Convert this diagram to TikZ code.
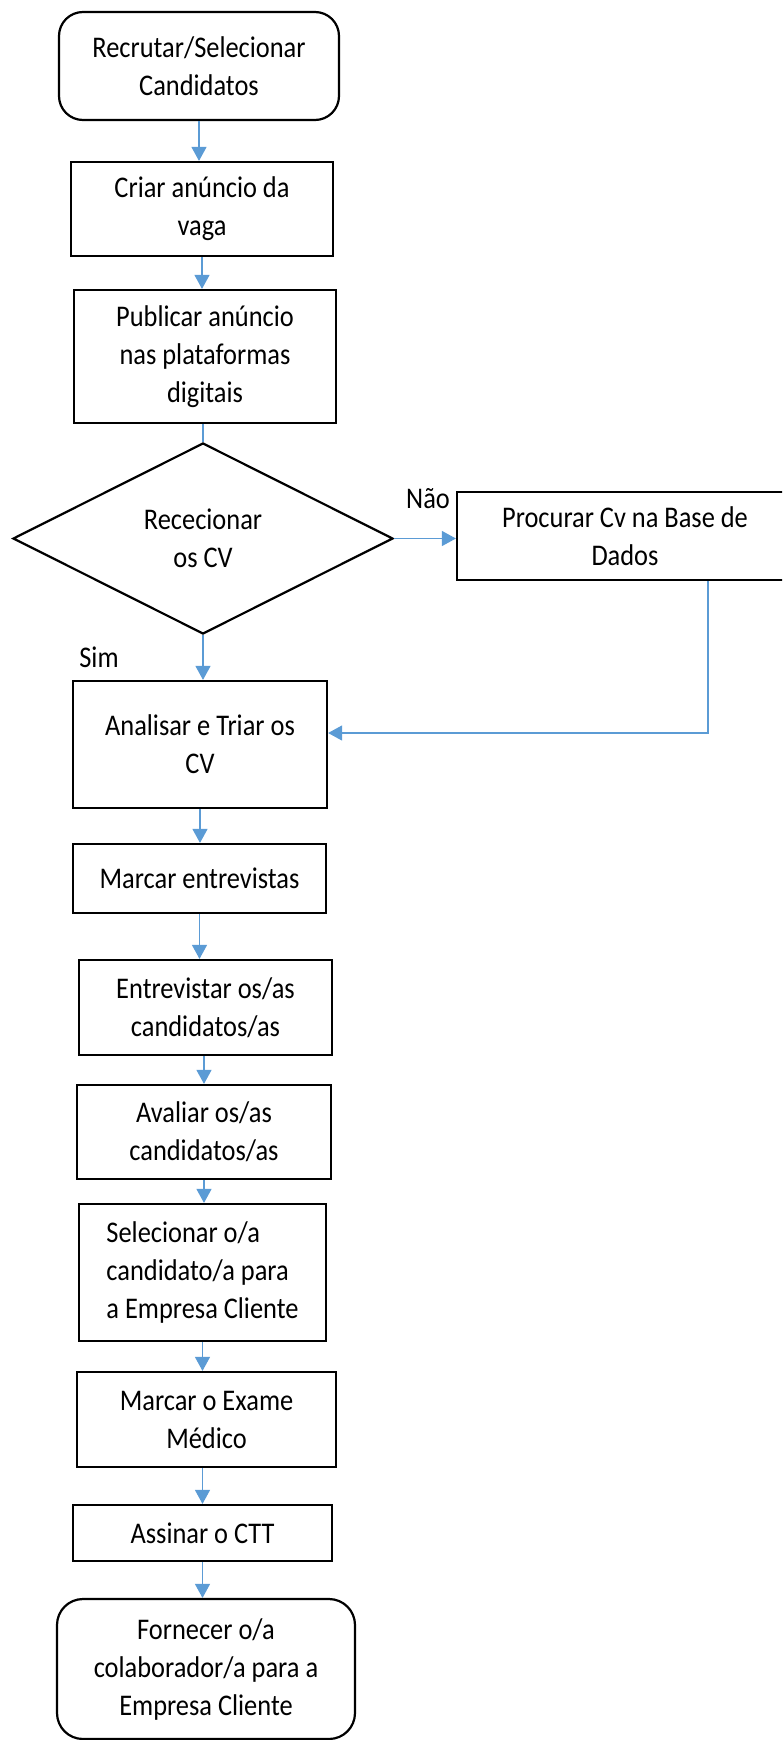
\documentclass[tikz,border=0pt]{standalone}
\usepackage{fontspec}
\setmainfont{Carlito}[FakeStretch=0.88]
\definecolor{flowblue}{RGB}{91,155,213}
\usetikzlibrary{
  shapes.geometric,
  arrows.meta,
  positioning
}

\begin{document}
\begin{tikzpicture}[
  x=0.5pt, y=-0.5pt,
  stepbox/.style 2 args={rectangle, draw=black, line width=1.1pt, minimum width=#1, minimum height=#2, inner sep=2pt, font=\fontsize{15}{19}\selectfont, align=center},
  termbox/.style 2 args={stepbox={#1}{#2}, rounded corners=12pt},
  decision/.style 2 args={diamond, draw=black, line width=1.1pt, minimum width=#1, minimum height=#2, inner sep=0pt, font=\fontsize{15}{19}\selectfont, align=center},
  arr/.style={-{Triangle[width=7.5pt, length=7pt]}, line width=0.6pt, flowblue},
  link/.style={line width=0.6pt, flowblue},
  tag/.style={font=\fontsize{15}{19}\selectfont, inner sep=0pt}
]
  \useasboundingbox (0,0) rectangle (782,1740);
  \clip (0,0) rectangle (782,1740);

  \node[termbox={140pt}{54pt}] (recrutar) at (199,66) {Recrutar/Selecionar\\Candidatos};
  \node[stepbox={131pt}{47pt}] (criar) at (202,209) {Criar anúncio da\\vaga};
  \node[stepbox={131pt}{66.5pt}] (publicar) at (205,356.5) {Publicar anúncio\\nas plataformas\\digitais};

  \node[decision={190pt}{95.5pt}] (rececionar) at (203,538.5) {Rececionar\\os CV};
  \node[stepbox={168pt}{44pt}] (procurar) at (625,536) {Procurar Cv na Base de\\Dados};
  \node[tag] (nao) at (428,499) {Não};
  \node[tag] (sim) at (99,657) {Sim};

  \node[stepbox={127pt}{63.5pt}] (analisar) at (200,744.5) {Analisar e Triar os\\CV};
  \node[stepbox={126.5pt}{34.5pt}] (marcar) at (199.5,878.5) {Marcar entrevistas};
  \node[stepbox={126.5pt}{47.5pt}] (entrevistar) at (205.5,1007.5) {Entrevistar os/as\\candidatos/as};
  \node[stepbox={127pt}{47pt}] (avaliar) at (204,1132) {Avaliar os/as\\candidatos/as};
  \node[stepbox={123.5pt}{68.5pt}, align=left] (selecionar) at (202.5,1272.5) {Selecionar o/a\\candidato/a para\\a Empresa Cliente};
  \node[stepbox={129.5pt}{47.5pt}] (exame) at (206.5,1419.5) {Marcar o Exame\\Médico};
  \node[stepbox={129.5pt}{28pt}] (assinar) at (202.5,1533) {Assinar o CTT};
  \node[termbox={149pt}{70pt}, rounded corners=13pt] (fornecer) at (206,1669) {Fornecer o/a\\colaborador/a para a\\Empresa Cliente};

  \coordinate (retorno) at (708,733);

  \draw[arr] (recrutar.south) -- (recrutar.south |- criar.north);
  \draw[arr] (criar.south) -- (criar.south |- publicar.north);
  \draw[link] (rececionar.north |- publicar.south) -- (rececionar.north);
  \draw[arr] (rececionar.east) -- (rececionar.east -| procurar.west);
  \draw[arr] (rececionar.south) -- (rececionar.south |- analisar.north);
  \draw[arr] (procurar.south -| retorno) -- (retorno) -- (analisar.east |- retorno);
  \draw[arr] (analisar.south) -- (analisar.south |- marcar.north);
  \draw[arr] (marcar.south) -- (marcar.south |- entrevistar.north);
  \draw[arr] (avaliar.north |- entrevistar.south) -- (avaliar.north);
  \draw[arr] (avaliar.south) -- (avaliar.south |- selecionar.north);
  \draw[arr] (selecionar.south) -- (selecionar.south |- exame.north);
  \draw[arr] (assinar.north |- exame.south) -- (assinar.north);
  \draw[arr] (assinar.south) -- (assinar.south |- fornecer.north);
\end{tikzpicture}
\end{document}
